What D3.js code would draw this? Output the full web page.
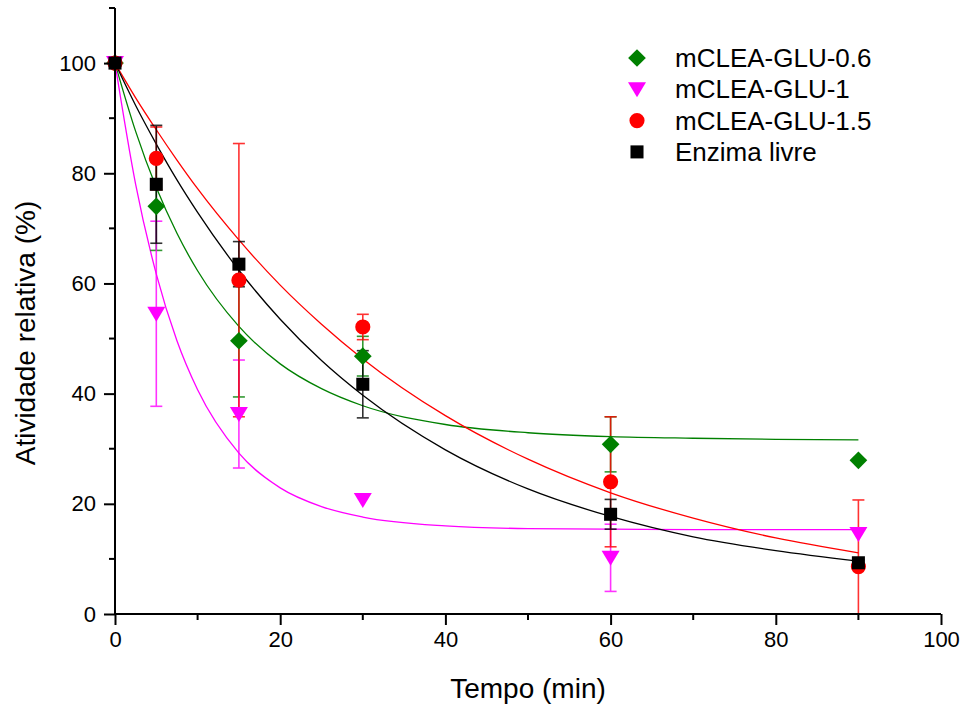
<!DOCTYPE html>
<html>
<head>
<meta charset="utf-8">
<script src="https://cdn.jsdelivr.net/npm/d3@7"></script>
<style>
  body { margin: 0; background: #fff; }
  svg text { font-family: "Liberation Sans", Arial, sans-serif; fill: #000; }
</style>
</head>
<body>
<div id="chart"></div>
<script>
// measured times (min)
const times = [0, 5, 15, 30, 60, 90];

const glu06 = [100, 74.0, 49.6, 46.8, 30.8, 27.9];
const glu06Err = [0, 8.0, 10.2, 3.6, 5.0, 0];
const glu1 = [100, 54.5, 36.3, 20.7, 10.2, 14.5];
const glu1Err = [0, 16.8, 9.8, 0, 6.1, 0];
const glu15 = [100, 82.7, 60.6, 52.1, 24.0, 8.6];
const glu15Err = [0, 5.7, 24.8, 2.3, 11.8, 12.1];
const livre = [100, 78.0, 63.5, 41.7, 18.1, 9.3];
const livreErr = [0, 10.7, 4.1, 6.1, 2.7, 0.5];

// fitted decay curves
const fitT = [0, 2.5, 5, 7.5, 10, 15, 20, 25, 30, 40, 50, 60, 70, 80, 90];
const fit06 = [100, 87.6, 77.4, 69.1, 62.3, 52.2, 45.4, 40.9, 37.8, 34.4, 32.9, 32.2, 31.9, 31.7, 31.6];
const fit1 = [100, 78.0, 61.7, 49.6, 40.7, 29.2, 22.9, 19.5, 17.6, 16.0, 15.5, 15.4, 15.3, 15.3, 15.3];
const fit15 = [100, 93.7, 87.9, 82.4, 77.2, 67.9, 59.7, 52.6, 46.3, 36.0, 28.1, 22.0, 17.4, 13.8, 11.1];
const fitLivre = [100, 92.3, 85.3, 78.8, 72.9, 62.4, 53.5, 46.0, 39.7, 29.8, 22.7, 17.7, 14.0, 11.5, 9.6];

const xTicks = [0, 20, 40, 60, 80, 100];
const yTicks = [0, 20, 40, 60, 80, 100];

const series = [
  { name: "mCLEA-GLU-0.6", color: "#008000", symbol: "diamond", y: glu06, err: glu06Err, fit: fit06 },
  { name: "mCLEA-GLU-1", color: "#ff00ff", symbol: "triangle", y: glu1, err: glu1Err, fit: fit1 },
  { name: "mCLEA-GLU-1.5", color: "#ff0000", symbol: "circle", y: glu15, err: glu15Err, fit: fit15 },
  { name: "Enzima livre", color: "#000000", symbol: "square", y: livre, err: livreErr, fit: fitLivre },
];

const width = 964, height = 704;
const svg = d3.select("#chart").append("svg")
  .attr("width", width).attr("height", height);

const x = d3.scaleLinear().domain([0, 100]).range([115, 941]);
const y = d3.scaleLinear().domain([0, 110]).range([614, 8]);

function symbolPath(type) {
  if (type === "diamond") return d3.symbol().type(d3.symbolDiamond2).size(200)();
  if (type === "circle") return d3.symbol().type(d3.symbolCircle).size(180)();
  if (type === "square") return d3.symbol().type(d3.symbolSquare).size(170)();
  // downward triangle
  return "M-9,-7L9,-7L0,8Z";
}

// fit curves
const line = d3.line()
  .x((d) => x(d[0]))
  .y((d) => y(d[1]))
  .curve(d3.curveMonotoneX);

series.forEach((s) => {
  svg.append("path")
    .datum(fitT.map((t, i) => [t, s.fit[i]]))
    .attr("fill", "none")
    .attr("stroke", s.color)
    .attr("stroke-width", 1.3)
    .attr("d", line);
});

// error bars
series.forEach((s) => {
  const g = svg.append("g").attr("stroke", s.color).attr("stroke-width", 1.6).attr("opacity", 0.8);
  times.forEach((t, i) => {
    const e = s.err[i];
    if (!e) return;
    const lo = Math.max(0, s.y[i] - e);
    const hi = s.y[i] + e;
    g.append("line").attr("x1", x(t)).attr("x2", x(t)).attr("y1", y(lo)).attr("y2", y(hi));
    g.append("line").attr("x1", x(t) - 6).attr("x2", x(t) + 6).attr("y1", y(hi)).attr("y2", y(hi));
    if (s.y[i] - e > 0) {
      g.append("line").attr("x1", x(t) - 6).attr("x2", x(t) + 6).attr("y1", y(lo)).attr("y2", y(lo));
    }
  });
});

// markers
series.forEach((s) => {
  svg.append("g").selectAll("path")
    .data(times.map((t, i) => [t, s.y[i]]))
    .join("path")
    .attr("transform", (d) => `translate(${x(d[0])},${y(d[1])})`)
    .attr("d", symbolPath(s.symbol))
    .attr("fill", s.color);
});

// axes
const xAxis = svg.append("g")
  .attr("transform", `translate(0,${y(0)})`)
  .call(d3.axisBottom(x).tickValues(xTicks).tickSize(11).tickPadding(6).tickFormat(d3.format("d")));
xAxis.append("g").selectAll("line")
  .data([10, 30, 50, 70, 90])
  .join("line")
  .attr("x1", (d) => x(d)).attr("x2", (d) => x(d))
  .attr("y1", 0).attr("y2", 6)
  .attr("stroke", "#000").attr("stroke-width", 2);

const yAxis = svg.append("g")
  .attr("transform", `translate(${x(0)},0)`)
  .call(d3.axisLeft(y).tickValues(yTicks).tickSize(11).tickPadding(8).tickFormat(d3.format("d")));
yAxis.append("g").selectAll("line")
  .data([10, 30, 50, 70, 90, 110])
  .join("line")
  .attr("x1", 0).attr("x2", -6)
  .attr("y1", (d) => y(d)).attr("y2", (d) => y(d))
  .attr("stroke", "#000").attr("stroke-width", 2);

[xAxis, yAxis].forEach((a) => {
  a.select(".domain").attr("stroke-width", 2).attr("d", null);
  a.selectAll(".tick line").attr("stroke-width", 2);
  a.selectAll(".tick text").style("font-size", "22px").style("font-family", "Liberation Sans, Arial, sans-serif");
});
xAxis.select(".domain").attr("d", `M${x(0)},0H${x(100)}`);
yAxis.select(".domain").attr("d", `M0,${y(0)}V${y(110)}`);

// axis titles
svg.append("text")
  .attr("x", (x(0) + x(100)) / 2)
  .attr("y", 698)
  .attr("text-anchor", "middle")
  .style("font-size", "28px")
  .text("Tempo (min)");

svg.append("text")
  .attr("transform", "translate(35,333) rotate(-90)")
  .attr("text-anchor", "middle")
  .style("font-size", "28px")
  .text("Atividade relativa (%)");

// legend
const legend = svg.append("g");
series.forEach((s, i) => {
  const ly = 58 + i * 31.3;
  legend.append("path")
    .attr("transform", `translate(637,${ly})`)
    .attr("d", symbolPath(s.symbol))
    .attr("fill", s.color);
  legend.append("text")
    .attr("x", 675)
    .attr("y", ly + 9)
    .style("font-size", "26px")
    .text(s.name);
});
</script>
</body>
</html>
